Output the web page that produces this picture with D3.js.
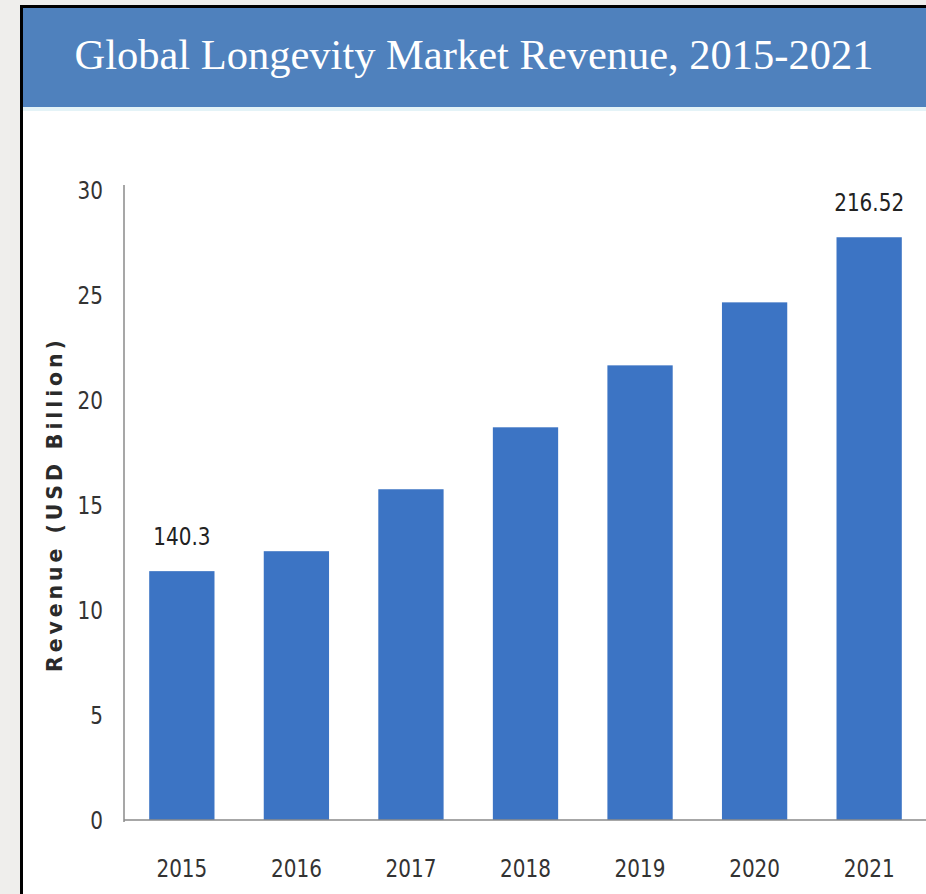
<!DOCTYPE html>
<html>
<head>
<meta charset="utf-8">
<script src="https://cdn.jsdelivr.net/npm/d3@7"></script>
<style>
    body { margin: 0; background: #efeeec; }
    svg { display: block; }
</style>
</head>
<body>
<div id="chart"></div>
<script>
const [WIDTH, HEIGHT] = [926, 894];

const years = ['2015', '2016', '2017', '2018', '2019', '2020', '2021'];
const revenue = [11.85, 12.8, 15.75, 18.7, 21.65, 24.65, 27.75];
const yTicks = [0, 5, 10, 15, 20, 25, 30];
const barLabels = { '2015': '140.3', '2021': '216.52' };

const TITLE = 'Global Longevity Market Revenue, 2015-2021';
const Y_TITLE = 'Revenue (USD Billion)';

const LABEL_FONT = '"DejaVu Sans", sans-serif';
const SQUEEZE = 0.8; // labels in the original are a narrow font

const svg = d3.select('#chart').append('svg')
    .attr('width', WIDTH)
    .attr('height', HEIGHT);

// frame + white panel
svg.append('rect')
    .attr('x', 21.5).attr('y', 6.5)
    .attr('width', WIDTH).attr('height', HEIGHT)
    .attr('fill', 'white')
    .attr('stroke', 'black')
    .attr('stroke-width', 3)

// title banner
svg.append('rect')
    .attr('x', 23).attr('y', 8)
    .attr('width', WIDTH - 23).attr('height', 99)
    .attr('fill', '#4f81bd')
svg.append('rect')
    .attr('x', 23).attr('y', 107)
    .attr('width', WIDTH - 23).attr('height', 4)
    .attr('fill', '#e4f3f7')

svg.append('text')
    .attr('x', 474).attr('y', 69)
    .attr('text-anchor', 'middle')
    .attr('fill', 'white')
    .attr('font-family', '"Liberation Serif", "Times New Roman", serif')
    .attr('font-size', 42.5)
    .text(TITLE)

const x = d3.scaleBand()
    .domain(years)
    .range([124, 927])
    .paddingInner(0.43)
    .paddingOuter(0.22);

const y = d3.scaleLinear()
    .domain([0, 30])
    .range([820, 190]);

// squeeze text horizontally to mimic the condensed face
function narrow(sel) {
    sel.each(function () {
        const len = this.getComputedTextLength();
        d3.select(this)
            .attr('textLength', len * SQUEEZE)
            .attr('lengthAdjust', 'spacingAndGlyphs');
    });
}

// bars
svg.selectAll('.bar')
    .data(years)
    .enter()
    .append('rect')
    .attr('class', 'bar')
    .attr('x', (d) => x(d))
    .attr('width', x.bandwidth())
    .attr('y', (d, i) => y(revenue[i]))
    .attr('height', (d, i) => y(0) - y(revenue[i]))
    .attr('fill', '#3c74c4')

// value labels
svg.selectAll('.bar-label')
    .data(years.filter((d) => barLabels[d]))
    .enter()
    .append('text')
    .attr('class', 'bar-label')
    .attr('x', (d) => x(d) + x.bandwidth() / 2)
    .attr('y', (d) => y(revenue[years.indexOf(d)]) - 26)
    .attr('text-anchor', 'middle')
    .attr('font-family', LABEL_FONT)
    .attr('font-size', 25)
    .attr('fill', '#222')
    .text((d) => barLabels[d])
    .call(narrow)

// y axis
const yAxis = svg.append('g')
    .attr('transform', 'translate(124,0)')
    .call(d3.axisLeft(y).tickValues(yTicks).tickSize(0).tickPadding(21))
yAxis.select('.domain')
    .attr('stroke', '#8a8a8a')
    .attr('stroke-width', 1.5)
    .attr('d', `M0,${185}V${822}`)
yAxis.selectAll('text')
    .attr('font-family', LABEL_FONT)
    .attr('font-size', 25)
    .attr('fill', '#333')
    .call(narrow)

// x axis
const xAxis = svg.append('g')
    .attr('transform', 'translate(0,820)')
    .call(d3.axisBottom(x).tickSize(0).tickPadding(39))
xAxis.select('.domain')
    .attr('stroke', '#8a8a8a')
    .attr('stroke-width', 1.5)
    .attr('d', `M124,0H${WIDTH}`)
xAxis.selectAll('text')
    .attr('font-family', LABEL_FONT)
    .attr('font-size', 25)
    .attr('fill', '#333')
    .call(narrow)

// y axis title
svg.append('text')
    .attr('transform', 'translate(62,506) rotate(-90)')
    .attr('text-anchor', 'middle')
    .attr('font-family', '"DejaVu Sans", sans-serif')
    .attr('font-weight', 'bold')
    .attr('font-size', 20.5)
    .attr('textLength', 332)
    .attr('lengthAdjust', 'spacing')
    .attr('fill', '#2a2a2a')
    .text(Y_TITLE)
</script>
</body>
</html>
